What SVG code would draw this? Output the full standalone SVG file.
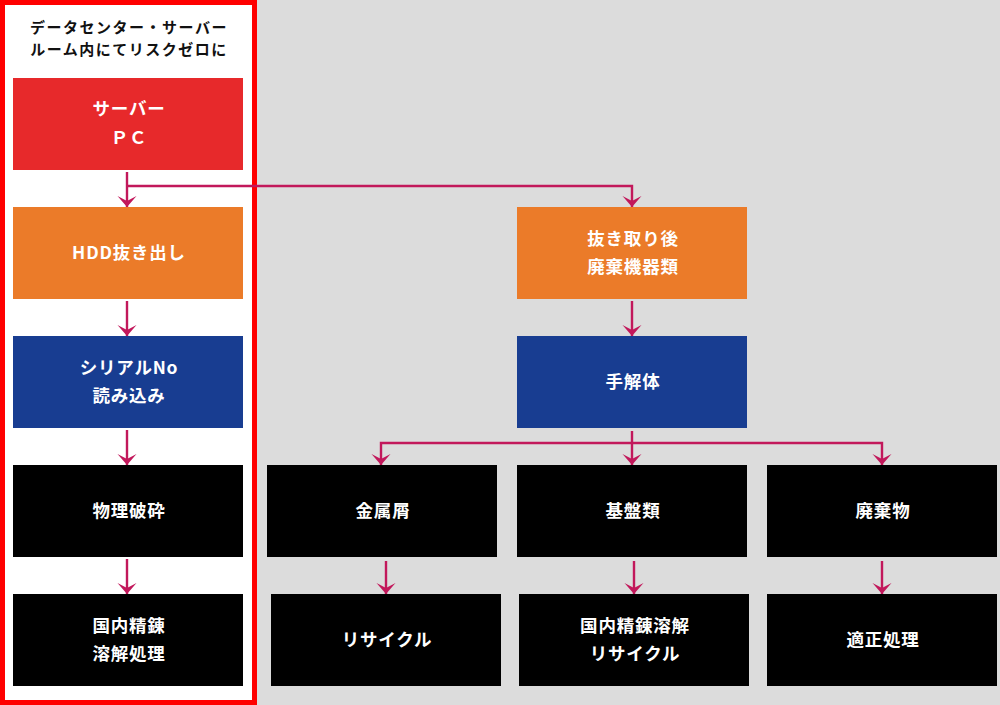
<svg xmlns="http://www.w3.org/2000/svg" width="1000" height="705" viewBox="0 0 1000 705">
<style>
text{font-family:"Noto Sans CJK JP","Noto Sans",sans-serif;font-weight:bold;text-anchor:middle}
.t{fill:#fff;font-size:17.5px;letter-spacing:0.8px}
.h{fill:#111;font-size:15px;letter-spacing:1.5px}
.red{fill:#e7292b}.org{fill:#eb7b29}.blu{fill:#183d91}.blk{fill:#000}
.c{fill:none;stroke:#c2185b;stroke-width:2.4;marker-end:url(#ah)}
.l{fill:none;stroke:#c2185b;stroke-width:2.4}
</style>
<defs>
<marker id="ah" markerUnits="userSpaceOnUse" markerWidth="22" markerHeight="22" viewBox="-12 -11 13 22" refX="0" refY="0" orient="auto">
<path d="M0,0 L-11,-9.5 L-6,0 L-11,9.5 Z" fill="#c2185b"/>
</marker>
</defs>
<rect x="0" y="0" width="1000" height="705" fill="#dcdcdc"/>
<rect id="frame" x="2.5" y="2.5" width="252" height="700" fill="#fff" stroke="#ff0000" stroke-width="5"/>
<g id="title">
<text class="h" x="129" y="33">データセンター・サーバー</text>
<text class="h" x="129" y="55">ルーム内にてリスクゼロに</text>
</g>
<g id="connectors">
<path class="c" d="M127,172 V207"/>
<path class="c" d="M127,186 H632 V207"/>
<path class="c" d="M127,301 V336"/>
<path class="c" d="M127,430 V465"/>
<path class="c" d="M127,559 V594"/>
<path class="c" d="M632,301 V336"/>
<path class="c" d="M632,431 V465"/>
<path class="c" d="M632,443 H381 V465"/>
<path class="c" d="M632,443 H882 V465"/>
<path class="c" d="M386,561 V594"/>
<path class="c" d="M634,561 V594"/>
<path class="c" d="M882,561 V594"/>
</g>
<g id="n-server"><rect class="red" x="13" y="78" width="230" height="92"/><text class="t" x="129" y="115">サーバー</text><text class="t" x="129" y="144">ＰＣ</text></g>
<g id="n-hdd"><rect class="org" x="13" y="207" width="230" height="92"/><text class="t" x="129" y="259">HDD抜き出し</text></g>
<g id="n-serial"><rect class="blu" x="13" y="336" width="230" height="92"/><text class="t" x="129" y="374">シリアルNo</text><text class="t" x="129" y="402">読み込み</text></g>
<g id="n-crush"><rect class="blk" x="13" y="465" width="230" height="92"/><text class="t" x="129" y="517">物理破砕</text></g>
<g id="n-refine"><rect class="blk" x="13" y="594" width="230" height="92"/><text class="t" x="129" y="632">国内精錬</text><text class="t" x="129" y="660">溶解処理</text></g>
<g id="n-after"><rect class="org" x="517" y="207" width="230" height="92"/><text class="t" x="633" y="245">抜き取り後</text><text class="t" x="633" y="273">廃棄機器類</text></g>
<g id="n-manual"><rect class="blu" x="517" y="336" width="230" height="92"/><text class="t" x="633" y="388">手解体</text></g>
<g id="n-metal"><rect class="blk" x="267" y="465" width="230" height="92"/><text class="t" x="383" y="517">金属屑</text></g>
<g id="n-board"><rect class="blk" x="517" y="465" width="230" height="92"/><text class="t" x="633" y="517">基盤類</text></g>
<g id="n-waste"><rect class="blk" x="767" y="465" width="230" height="92"/><text class="t" x="883" y="517">廃棄物</text></g>
<g id="n-recycle"><rect class="blk" x="271" y="594" width="230" height="92"/><text class="t" x="387" y="646">リサイクル</text></g>
<g id="n-refine2"><rect class="blk" x="519" y="594" width="230" height="92"/><text class="t" x="635" y="632">国内精錬溶解</text><text class="t" x="635" y="660">リサイクル</text></g>
<g id="n-proper"><rect class="blk" x="767" y="594" width="230" height="92"/><text class="t" x="883" y="646">適正処理</text></g>
</svg>
